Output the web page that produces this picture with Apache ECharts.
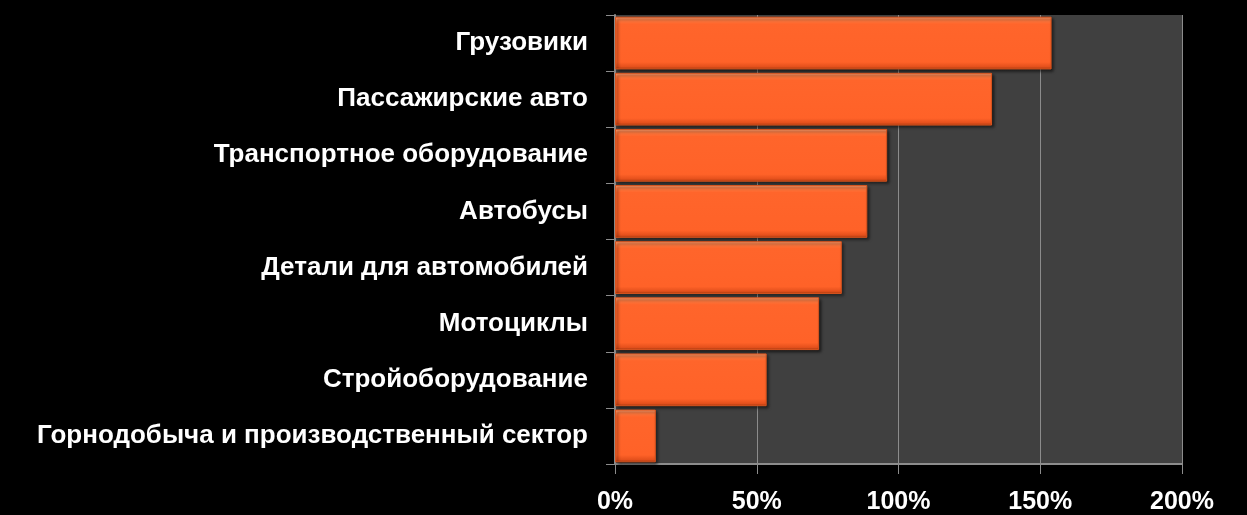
<!DOCTYPE html>
<html>
<head>
<meta charset="utf-8">
<script src="https://cdn.jsdelivr.net/npm/echarts@6/dist/echarts.min.js"></script>
<style>
  html, body { margin: 0; padding: 0; background: #000; }
  #chart { width: 1247px; height: 515px; }
</style>
</head>
<body>
<div id="chart"></div>
<script>
// категории сверху вниз
const categories = [
  "Грузовики",
  "Пассажирские авто",
  "Транспортное оборудование",
  "Автобусы",
  "Детали для автомобилей",
  "Мотоциклы",
  "Стройоборудование",
  "Горнодобыча и производственный сектор"
];
// рост, %
const growth = [154, 133, 96, 89, 80, 72, 53.5, 14.4];
const xTicks = [0, 50, 100, 150, 200];

const chart = echarts.init(document.getElementById("chart"));
chart.setOption({
  backgroundColor: "#000000",
  animation: false,
  grid: {
    left: 615,
    right: 65,
    top: 15,
    bottom: 51,
    show: true,
    backgroundColor: "#404040",
    borderWidth: 0
  },
  xAxis: {
    type: "value",
    min: xTicks[0],
    max: xTicks[xTicks.length - 1],
    interval: 50,
    axisLine: { show: true, lineStyle: { color: "#8c8c8c", width: 2 } },
    axisTick: { show: true, length: 10, lineStyle: { color: "#8c8c8c", width: 1 } },
    splitLine: { show: true, lineStyle: { color: "#8c8c8c", width: 1 } },
    axisLabel: {
      margin: 26,
      color: "#ffffff",
      fontFamily: "Liberation Sans",
      fontWeight: "bold",
      fontSize: 25,
      formatter: "{value}%"
    }
  },
  yAxis: {
    type: "category",
    inverse: true,
    data: categories,
    axisLine: { show: true, lineStyle: { color: "#8c8c8c", width: 2 } },
    axisTick: { show: true, length: 9, lineStyle: { color: "#8c8c8c", width: 1 } },
    axisLabel: {
      margin: 27,
      padding: [4, 0, 0, 0],
      color: "#ffffff",
      fontFamily: "Liberation Sans",
      fontWeight: "bold",
      fontSize: 26
    }
  },
  series: [
    {
      type: "bar",
      data: growth,
      barCategoryGap: "6%",
      itemStyle: {
        color: new echarts.graphic.LinearGradient(0, 0, 0, 1, [
          { offset: 0, color: "#ffa070" },
          { offset: 0.07, color: "#ff7a40" },
          { offset: 0.14, color: "#ff652b" },
          { offset: 0.86, color: "#ff6228" },
          { offset: 0.95, color: "#e4501c" },
          { offset: 1, color: "#a83a10" }
        ]),
        borderColor: "#d9541e",
        borderWidth: 1,
        shadowColor: "rgba(0,0,0,0.6)",
        shadowBlur: 3,
        shadowOffsetX: 2,
        shadowOffsetY: 2
      }
    }
  ]
});
</script>
</body>
</html>
